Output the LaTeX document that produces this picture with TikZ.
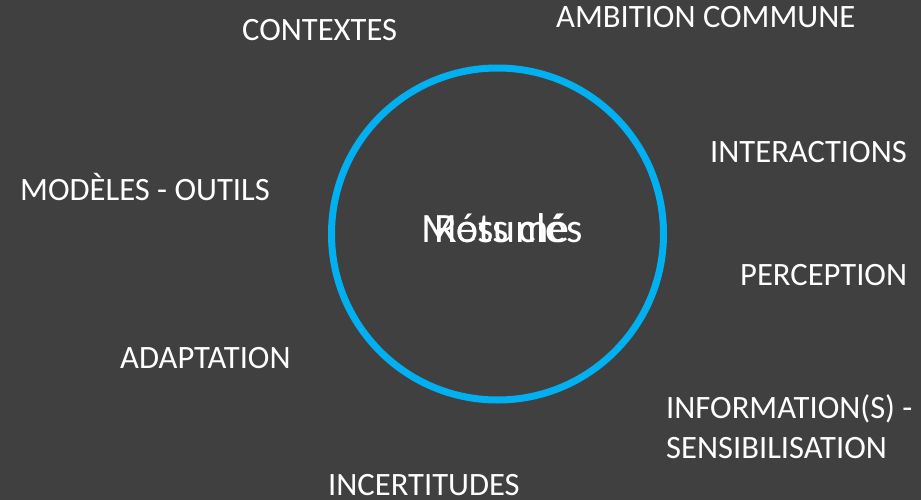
\documentclass[tikz,border=0pt]{standalone}
\usepackage{fontspec}
\setmainfont{Carlito}
\definecolor{bg}{HTML}{404040}
\definecolor{ring}{HTML}{00B0F0}
\begin{document}
\begin{tikzpicture}[x=1pt,y=-1pt,
  lbl/.style={text=white,inner sep=0pt,anchor=base west,font=\fontsize{32.6}{39}\selectfont},
  ctr/.style={text=white,inner sep=0pt,anchor=base,font=\fontsize{41.8}{50}\selectfont}]
\fill[bg] (0,0) rectangle (921,500);
\useasboundingbox (0,0) rectangle (921,500);
\node[draw=ring,line width=7pt,circle,minimum size=332pt,inner sep=0pt] (ring) at (497.5,234) {};
\node[ctr] (resume) at (502,242) {Résumé};
\node[ctr] (mots) at (502,242) {Mots clés};
\node[lbl] (contextes) at (242,41) {CONTEXTES};
\node[lbl] (ambition) at (556,28) {AMBITION COMMUNE};
\node[lbl] (interactions) at (710,163) {INTERACTIONS};
\node[lbl] (modeles) at (20,200) {MODÈLES - OUTILS};
\node[lbl] (perception) at (740,285) {PERCEPTION};
\node[lbl] (adaptation) at (120,368) {ADAPTATION};
\node[lbl] (information) at (666,418) {INFORMATION(S) -};
\node[lbl] (sensib) at (666,458) {SENSIBILISATION};
\node[lbl] (incertitudes) at (328,495) {INCERTITUDES};
\end{tikzpicture}
\end{document}
